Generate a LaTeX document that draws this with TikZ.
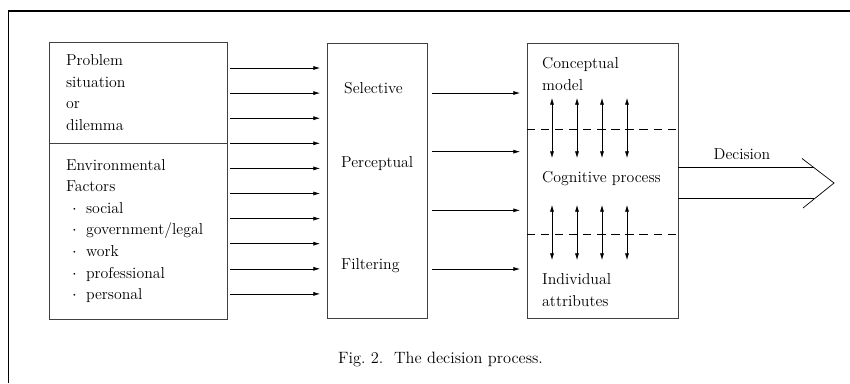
\documentclass[tikz,border=0pt]{standalone}
\usepackage{amsmath,amssymb}
\usetikzlibrary{arrows.meta,positioning,calc}

\newcommand{\factoritem}[1]{\hspace*{0.18cm}\makebox[0.42cm][l]{$\cdot$}#1}

\begin{document}
\begin{tikzpicture}[
				>={Latex[length=2mm,width=1.2mm]},
				font=\fontsize{13.5}{18.4}\selectfont,
				inputbox/.style={
					rectangle,
					draw=black!75,
					line width=0.6pt,
					outer sep=0pt,
					align=left,
					inner xsep=0.51cm,
					text width=4.32cm
				},
				stagebox/.style={
					rectangle,
					draw=black!75,
					line width=0.6pt,
					outer sep=0pt,
					minimum height=8.25cm
				},
				boxtext/.style={
					anchor=west,
					align=left,
					inner sep=0pt
				},
				feed/.style={
					->,
					line width=0.5pt
				},
				link/.style={
					<->,
					line width=0.5pt
				},
				divider/.style={
					line width=0.5pt,
					dash pattern=on 7pt off 5pt
				},
				frame/.style={
					line width=1.7pt
				}
				]
				
				\useasboundingbox (0,0) rectangle (25.5,-11.49);
				
				% -------------------------------------------------------------------------
				% Page frame
				% -------------------------------------------------------------------------
				
				\draw[frame] (0.255,-11.49) |- (25.5,-0.33);
				
				% -------------------------------------------------------------------------
				% Inputs
				% -------------------------------------------------------------------------
				
				\node[inputbox,minimum height=3.03cm] (problem) at (4.14,-2.775)
				{Problem\\situation\\or\\dilemma};
				
				\node[inputbox,minimum height=5.28cm,below=0pt of problem] (env)
				{Environmental\\Factors\\
					\factoritem{social}\\
					\factoritem{government/legal}\\
					\factoritem{work}\\
					\factoritem{professional}\\
					\factoritem{personal}};
				
				% -------------------------------------------------------------------------
				% Perceptual filter and cognition
				% -------------------------------------------------------------------------
				
				\node[stagebox,minimum width=3.0cm] (filter) at (11.31,-5.415) {};
				
				\node[boxtext] (sel) at (10.32,-2.64) {Selective};
				\node[boxtext] (perc) at (10.23,-4.92) {Perceptual};
				\node[boxtext] (filt) at (10.23,-7.97) {Filtering};
				
				\node[stagebox,minimum width=4.53cm] (cognition) at (18.075,-5.415) {};
				
				\node[boxtext] (concept) at (16.26,-2.22) {Conceptual\\model};
				\node[boxtext] (cogproc) at (16.26,-5.37) {Cognitive process};
				\node[boxtext] (indiv) at (16.26,-8.7) {Individual\\attributes};
				
				\draw[divider] ([yshift=-2.58cm]cognition.north west) -- ([yshift=-2.58cm]cognition.north east);
				\draw[divider] ([yshift=-5.73cm]cognition.north west) -- ([yshift=-5.73cm]cognition.north east);
				
				\foreach \x in {0.75,1.5,2.25,3.0}{
					\draw[link] ([shift={(\x,-1.65)}]cognition.north west) -- ([shift={(\x,-3.45)}]cognition.north west);
					\draw[link] ([shift={(\x,-4.86)}]cognition.north west) -- ([shift={(\x,-6.51)}]cognition.north west);
				}
				
				% -------------------------------------------------------------------------
				% Feeding arrows
				% -------------------------------------------------------------------------
				
				\foreach \i in {0,...,9}{
					\coordinate (in\i) at ([yshift=-0.78cm-\i*0.753cm]problem.north east);
					\draw[feed,shorten <=0.09cm,shorten >=0.21cm] (in\i) -- (in\i -| filter.west);
				}
				
				\foreach \i in {0,...,3}{
					\coordinate (mid\i) at ([yshift=-1.5cm-\i*1.76cm]filter.north east);
					\draw[feed,shorten <=0.15cm,shorten >=0.21cm] (mid\i) -- (mid\i -| cognition.west);
				}
				
				% -------------------------------------------------------------------------
				% Decision output
				% -------------------------------------------------------------------------
				
				\coordinate (tip) at (25.02,-5.49);
				
				\draw[line width=0.6pt] ([yshift=0.465cm]cognition.east |- tip) -- ([shift={(-0.6,0.465)}]tip);
				\draw[line width=0.6pt] ([yshift=-0.465cm]cognition.east |- tip) -- ([shift={(-0.6,-0.465)}]tip);
				\draw[line width=0.6pt] ([shift={(-0.96,0.735)}]tip) -- (tip) -- ([shift={(-0.93,-0.75)}]tip);
				
				\node (decision) at (22.26,-4.62) {Decision};
				
				% -------------------------------------------------------------------------
				% Caption
				% -------------------------------------------------------------------------
				
				\node[font=\fontsize{14}{16}\selectfont] (caption) at (13.215,-10.77)
				{Fig.~2.\ \ The decision process.};
				
		\end{tikzpicture}
\end{document}
